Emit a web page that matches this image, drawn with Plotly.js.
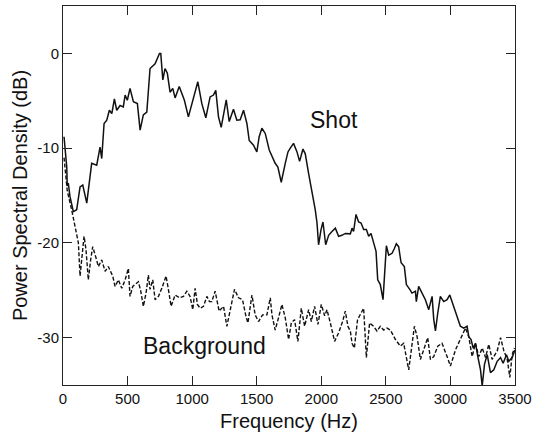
<!DOCTYPE html>
<html>
<head>
<meta charset="utf-8">
<script src="https://cdn.plot.ly/plotly-3.0.1.min.js"></script>
<style>
html,body{margin:0;padding:0;background:#fff;}
#chart{width:543px;height:438px;}
</style>
</head>
<body>
<div id="chart"></div>
<script>
// Shot spectrum (Hz, dB)
const shotFreq = [8,16,29,33,41,54,67,80,106,132,153,184,222,261,287,300,318,339,359,378,398,416,442,467,481,498,519,545,576,597,622,649,674,713,747,757,773,790,808,829,850,868,900,940,971,1010,1044,1075,1106,1139,1165,1183,1204,1225,1243,1264,1287,1320,1346,1372,1398,1424,1442,1475,1501,1519,1540,1566,1597,1622,1643,1664,1690,1721,1742,1760,1785,1812,1832,1858,1876,1902,1928,1953,1967,1979,1998,2013,2034,2057,2083,2109,2134,2160,2186,2225,2238,2250,2269,2289,2308,2328,2349,2367,2385,2405,2424,2437,2457,2478,2496,2504,2522,2548,2566,2581,2599,2618,2643,2659,2685,2703,2729,2736,2754,2781,2806,2832,2858,2871,2884,2902,2922,2948,2974,2995,3021,3039,3057,3077,3103,3129,3142,3160,3176,3194,3212,3233,3246,3264,3285,3310,3336,3362,3388,3408,3434,3452,3478,3500];
const shotDb = [-8.8,-10.2,-12,-14,-13.7,-15.1,-15.8,-16.7,-16.5,-14.1,-13.9,-15.8,-11.6,-11.8,-9.9,-11.1,-7.4,-7.05,-6.0,-6.35,-4.8,-6.0,-5.5,-5.65,-4.4,-4.95,-3.7,-5.1,-5.3,-8.1,-6.5,-6.2,-1.6,-1.1,0,0,-2.8,-1.6,-2.1,-4.1,-3.7,-4.7,-3.5,-4.95,-6.7,-4.6,-3.0,-5.3,-6.8,-4.6,-4.4,-3.9,-6.7,-7.8,-6.35,-4.9,-7.2,-5.9,-7.05,-7.0,-6.0,-7.4,-9.2,-9.7,-10.4,-8.8,-7.9,-8.45,-10.2,-10.9,-11.6,-12.0,-13.6,-11.6,-10.4,-10.0,-9.5,-10.4,-11.4,-10.1,-10.6,-12.7,-14.6,-16.5,-17.9,-20.2,-18.6,-17.8,-20.2,-19.2,-18.8,-18.45,-19.3,-19.2,-19.0,-19.05,-18.45,-18.8,-17.0,-17.8,-17.9,-18.6,-18.6,-19.3,-19.0,-20.0,-20.9,-23.9,-24.4,-26.0,-22.1,-20.3,-21.3,-21.1,-20.6,-20.1,-20.4,-22.1,-22.5,-24.4,-24.9,-25.3,-25.1,-26.2,-24.6,-25.3,-26.0,-27.05,-25.65,-28.1,-29.3,-27.4,-25.65,-26.2,-26.0,-25.5,-26.5,-27.4,-28.1,-28.8,-29.0,-28.8,-29.9,-30.2,-31.1,-30.6,-32.0,-33.4,-35.1,-32.8,-31.8,-33.7,-33.4,-32.5,-32.1,-32.7,-31.8,-32.5,-32.1,-31.3];

// Background spectrum (Hz, dB)
const bgFreq = [8,33,67,85,101,119,132,153,163,178,196,214,230,256,274,300,326,351,385,403,429,455,481,506,519,540,566,584,602,622,643,661,674,695,713,739,765,798,816,837,868,902,933,959,984,1005,1023,1041,1062,1088,1114,1134,1152,1178,1209,1243,1269,1295,1328,1359,1390,1416,1432,1463,1488,1514,1545,1579,1605,1618,1643,1669,1695,1721,1747,1768,1793,1819,1845,1871,1902,1923,1948,1974,2000,2026,2044,2070,2103,2134,2165,2186,2206,2225,2238,2256,2281,2328,2349,2374,2405,2431,2457,2483,2509,2535,2574,2612,2638,2677,2703,2721,2742,2767,2793,2824,2845,2871,2902,2935,2974,3000,3039,3077,3116,3142,3168,3194,3220,3246,3272,3297,3323,3362,3388,3414,3440,3460,3478,3496];
const bgDb = [-11,-14.5,-16.5,-17.8,-18.6,-20.0,-23.5,-20.7,-19.3,-20.7,-23.9,-21.8,-20.4,-21.6,-22.5,-21.8,-23.0,-22.5,-23.5,-24.6,-23.9,-24.8,-23.9,-22.7,-25.65,-24.6,-24.25,-24.1,-25.1,-26.7,-25.3,-23.4,-24.9,-23.9,-26.0,-25.65,-24.8,-23.5,-24.9,-26.7,-25.5,-25.8,-25.65,-25.1,-25.65,-27.05,-24.8,-26.5,-26.9,-26.7,-25.65,-26.2,-26.2,-25.1,-27.2,-26.7,-28.8,-27.05,-24.9,-25.8,-26.0,-27.7,-28.45,-25.5,-27.6,-28.3,-27.6,-27.6,-25.8,-27.6,-29.2,-27.9,-26.5,-27.9,-30.2,-28.45,-28.1,-30.4,-26.9,-28.8,-27.05,-28.3,-26.7,-28.6,-26.5,-27.7,-27.05,-28.45,-30.4,-29.5,-28.3,-27.2,-28.8,-29.3,-30.6,-31.1,-28.1,-26.9,-32.1,-28.45,-28.8,-29.3,-28.8,-29.2,-29.0,-29.2,-30.2,-30.9,-30.6,-33.4,-30.9,-28.8,-29.9,-32.3,-31.3,-30.0,-32.3,-32.0,-30.9,-30.6,-32.0,-33.0,-31.3,-30.2,-29.0,-29.9,-32.0,-30.6,-32.0,-31.1,-32.1,-30.7,-32.3,-31.4,-30.0,-31.4,-32.3,-34.2,-31.8,-31.1];

const xTickVals = [0,500,1000,1500,2000,2500,3000,3500];
const yTickVals = [0,-10,-20,-30];
const yTickText = ["0","-10","-20","-30"];
const seriesLabels = ["Shot","Background"];

const font = "'Liberation Sans', Arial, Helvetica, sans-serif";

const traces = [
  {x: shotFreq, y: shotDb, type: 'scatter', mode: 'lines', name: seriesLabels[0],
   line: {color: '#111', width: 1.5}},
  {x: bgFreq, y: bgDb, type: 'scatter', mode: 'lines', name: seriesLabels[1],
   line: {color: '#111', width: 1.4, dash: '4px,2px'}}
];

const layout = {
  width: 543, height: 438,
  margin: {l: 63, r: 28, t: 6, b: 53},
  paper_bgcolor: '#fff', plot_bgcolor: '#fff',
  showlegend: false,
  font: {family: font, color: '#111'},
  xaxis: {
    range: [0, 3500], tickvals: xTickVals, ticks: 'inside', ticklen: 9, tickcolor: '#222',
    showline: true, linecolor: '#222', linewidth: 1, mirror: 'ticks', showgrid: false, zeroline: false,
    tickfont: {size: 15, family: font},
    title: {text: 'Frequency (Hz)', font: {size: 20, family: font}, standoff: 7}
  },
  yaxis: {
    range: [-35, 5], tickvals: yTickVals, ticktext: yTickText, ticks: 'inside', ticklen: 9, tickcolor: '#222',
    showline: true, linecolor: '#222', linewidth: 1, mirror: 'ticks', showgrid: false, zeroline: false,
    tickfont: {size: 15, family: font},
    title: {text: 'Power Spectral Density (dB)', font: {size: 20, family: font}, standoff: 4}
  },
  annotations: [
    {x: 2101, y: -7.05, xref: 'x', yref: 'y', text: seriesLabels[0], showarrow: false,
     font: {size: 23, family: font, color: '#111'}},
    {x: 1093, y: -30.9, xref: 'x', yref: 'y', text: seriesLabels[1], showarrow: false,
     font: {size: 23, family: font, color: '#111'}}
  ]
};

Plotly.newPlot('chart', traces, layout, {staticPlot: true, displayModeBar: false});
</script>
</body>
</html>
